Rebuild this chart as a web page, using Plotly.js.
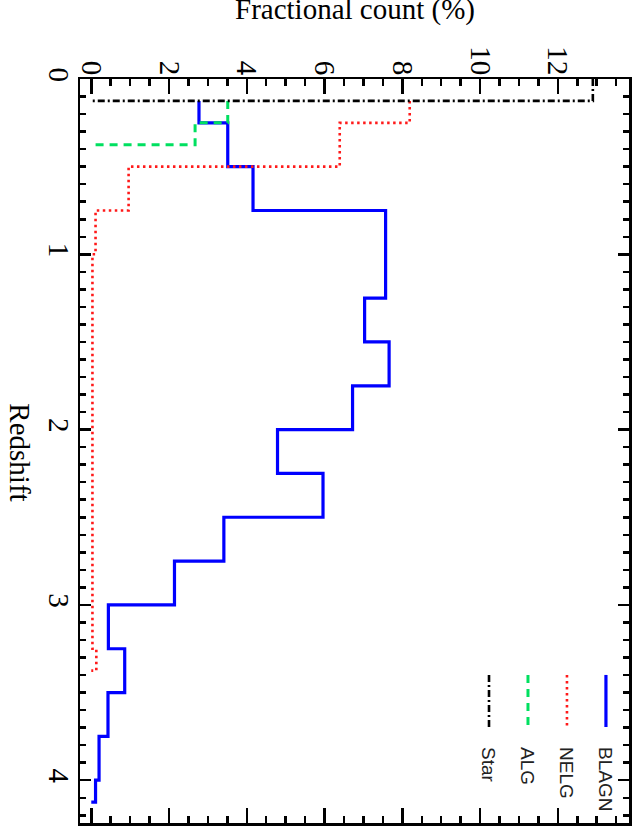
<html><head>
<style>
body { margin: 0; background: white; }
#chart { width: 634px; height: 828px; }
</style>
<script src="https://cdn.plot.ly/plotly-3.0.1.min.js"></script>
</head>
<body>
<div id="chart"></div>
<script>
// redshift bin centres (psym=10 style histogram, bins of 0.25)
const zBins = [0.125, 0.375, 0.625, 0.875, 1.125, 1.375, 1.625, 1.875, 2.125,
               2.375, 2.625, 2.875, 3.125, 3.375, 3.625, 3.875, 4.125];
const blagnPct = [2.77, 3.51, 4.16, 7.57, 7.57, 7.03, 7.66, 6.72, 4.79,
                  5.96, 3.41, 2.14, 0.44, 0.86, 0.43, 0.20, 0.11];
const nelgZ = [0.125, 0.375, 0.625, 0.875, 1.125, 1.375, 1.625, 1.875, 2.125,
               2.375, 2.625, 2.875, 3.125, 3.375];
const nelgPct = [8.19, 6.39, 0.96, 0.11, 0.03, 0.03, 0.03, 0.03, 0.03,
                 0.03, 0.03, 0.03, 0.03, 0.13];
const algZ = [0.125, 0.375];
const algPct = [3.51, 2.67];
const starZ = [0, 0.125];
const starPct = [12.9, 12.9];

const seriesNames = ['BLAGN', 'NELG', 'ALG', 'Star'];
const seriesColors = ['#0000ff', '#ff1a1a', '#00e060', '#000000'];
const seriesDash = ['solid', '2.5px,3.5px', '8px,6px', '7px,3px,2px,3px'];
const seriesWidth = [3.2, 2.6, 3, 2.6];

// histogram step: closes back to zero at the last bin
function stepTrace(z, pct, i) {
  return {
    x: pct.concat([0]),
    y: z.concat([z[z.length - 1]]),
    type: 'scatter',
    mode: 'lines',
    name: seriesNames[i],
    line: {shape: 'vhv', color: seriesColors[i], dash: seriesDash[i], width: seriesWidth[i]},
    hoverinfo: 'skip'
  };
}

const data = [
  stepTrace(zBins, blagnPct, 0),
  stepTrace(nelgZ, nelgPct, 1),
  stepTrace(algZ, algPct, 2),
  stepTrace(starZ, starPct, 3)
];

// legend drawn rotated, like the rest of the page
const legX = [0.958, 0.887, 0.816, 0.745];
const shapes = [];
const annotations = [
  {text: 'Fractional count (%)', xref: 'paper', yref: 'paper', x: 0.5, y: 1.094,
   xanchor: 'center', yanchor: 'middle', showarrow: false,
   font: {family: 'Liberation Serif', size: 29, color: '#000'}},
  {text: 'Redshift', xref: 'paper', yref: 'paper', x: -0.11, y: 0.4987,
   xanchor: 'center', yanchor: 'middle', textangle: 90, showarrow: false,
   font: {family: 'Liberation Serif', size: 29, color: '#000'}}
];
seriesNames.forEach(function(name, i) {
  shapes.push({type: 'line', xref: 'paper', yref: 'paper',
    x0: legX[i], x1: legX[i], y0: 0.199, y1: 0.129,
    line: {color: seriesColors[i], dash: seriesDash[i], width: seriesWidth[i]}});
  annotations.push({text: name, xref: 'paper', yref: 'paper', x: legX[i] - 0.002, y: 0.105,
    xanchor: 'center', yanchor: 'top', textangle: 90, showarrow: false,
    font: {family: 'Liberation Sans', size: 19, color: '#222'}});
});

const layout = {
  width: 634,
  height: 828,
  margin: {l: 80, r: 5, t: 79, b: 5},
  paper_bgcolor: 'white',
  plot_bgcolor: 'white',
  showlegend: false,
  font: {family: 'Liberation Serif', size: 29, color: '#000'},
  xaxis: {
    side: 'top',
    range: [-0.29, 13.83],
    dtick: 2, tick0: 0,
    tickangle: 90,
    ticks: 'inside', ticklen: 15, tickwidth: 2.5, tickcolor: '#000',
    minor: {dtick: 0.5, ticks: 'inside', ticklen: 7, tickwidth: 2.5, tickcolor: '#000'},
    showline: true, linewidth: 2.5, linecolor: '#000', mirror: 'allticks',
    showgrid: false, zeroline: false,
    ticklabelstandoff: -9
  },
  yaxis: {
    range: [4.244, 0],
    dtick: 1, tick0: 0,
    tickangle: 90,
    ticks: 'inside', ticklen: 11, tickwidth: 2.5, tickcolor: '#000',
    minor: {dtick: 0.1, ticks: 'inside', ticklen: 6, tickwidth: 2.5, tickcolor: '#000'},
    showline: true, linewidth: 2.5, linecolor: '#000', mirror: 'allticks',
    showgrid: false, zeroline: false,
    ticklabelstandoff: -6
  },
  shapes: shapes,
  annotations: annotations
};

Plotly.newPlot('chart', data, layout, {displayModeBar: false, staticPlot: true});
</script>
</body></html>
